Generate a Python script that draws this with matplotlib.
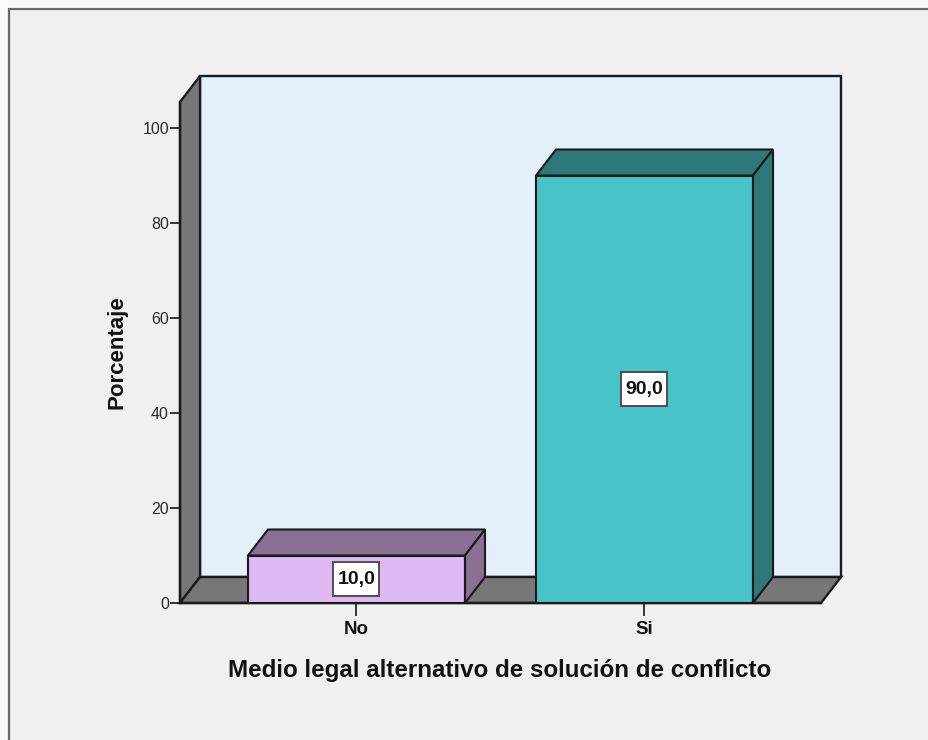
import matplotlib
matplotlib.use("Agg")
import matplotlib.pyplot as plt
from matplotlib.patches import Polygon, Rectangle

plt.rcParams['font.family'] = ['Liberation Sans', 'DejaVu Sans']

categorias = ['No', 'Si']
porcentajes = [10.0, 90.0]
etiquetas = ['10,0', '90,0']
marcas_y = [0, 20, 40, 60, 80, 100]

W, H = 929, 740
fig = plt.figure(figsize=(W/100, H/100), dpi=100, facecolor='#fafafa')

# grey window behind the chart, its frame runs off right and bottom
fig.add_artist(Rectangle((8.5/W, -0.02), 1.0, 1.02 - 8.5/H, transform=fig.transFigure,
                         facecolor='#f0f0f0', edgecolor='#6a6a6a', linewidth=1.6, zorder=-1))

# front plane of the 3d box, px 180..821 and 603..102
ax = fig.add_axes([180/W, 1 - 603/H, 641/W, 501/H])
ax.patch.set_visible(False)
paso = 288.0  # px between categories
px_y = 4.75   # px per unit of y
ax.set_xlim((180 - 356.5)/paso, (821 - 356.5)/paso)
ax.set_ylim(0, 501/px_y)

dx = 20/paso  # depth of the box
dy = 26/px_y
x0, x1 = ax.get_xlim()
y1 = ax.get_ylim()[1]
borde = '#1a1a1a'

# back wall, side wall, floor
ax.add_patch(Polygon([(x0+dx, dy), (x1+dx, dy), (x1+dx, y1+dy), (x0+dx, y1+dy)],
                     facecolor='#e3effb', edgecolor=borde, lw=1.7, clip_on=False, zorder=1))
ax.add_patch(Polygon([(x0, 0), (x0+dx, dy), (x0+dx, y1+dy), (x0, y1)],
                     facecolor='#777777', edgecolor=borde, lw=1.7, clip_on=False, zorder=1))
ax.add_patch(Polygon([(x0, 0), (x1, 0), (x1+dx, dy), (x0+dx, dy)],
                     facecolor='#777777', edgecolor=borde, lw=1.7, clip_on=False, zorder=1))

ancho = 217/paso
frente = ['#dfb9f3', '#48c3c8']
oscuro = ['#8a7094', '#2d7878']
caja_w = 46/paso  # white box behind the value label
caja_h = 34/px_y
for i, v in enumerate(porcentajes):
    a = i - ancho/2
    b = i + ancho/2
    ax.bar(i, v, width=ancho, color=frente[i], edgecolor=borde, linewidth=1.5, zorder=3)
    ax.add_patch(Polygon([(a, v), (b, v), (b+dx, v+dy), (a+dx, v+dy)], facecolor=oscuro[i],
                         edgecolor=borde, lw=1.5, clip_on=False, zorder=3))
    ax.add_patch(Polygon([(b, 0), (b+dx, dy), (b+dx, v+dy), (b, v)], facecolor=oscuro[i],
                         edgecolor=borde, lw=1.5, clip_on=False, zorder=3))
    ax.add_patch(Rectangle((i - caja_w/2, v/2 - caja_h/2), caja_w, caja_h, facecolor='white',
                           edgecolor='#444444', lw=1.3, zorder=4))
    ax.text(i, v/2, etiquetas[i], ha='center', va='center', fontsize=14, fontweight='bold',
            color='#111111', zorder=5)

for lado in ['top', 'right']:
    ax.spines[lado].set_visible(False)
for lado in ['left', 'bottom']:
    ax.spines[lado].set_color(borde)
    ax.spines[lado].set_linewidth(1.7)
    ax.spines[lado].set_zorder(2)

ax.set_yticks(marcas_y)
ax.set_xticks(range(len(categorias)))
ax.set_xticklabels(categorias, fontweight='bold')
ax.tick_params(axis='y', length=7, width=1.4, color='#333333', labelsize=11.5,
               labelcolor='#2a2a2a', pad=1)
ax.tick_params(axis='x', length=9, width=1.4, color='#333333', labelsize=13.5,
               labelcolor='#111111', pad=4)

fig.text(117/W, 1 - 352/H, 'Porcentaje', rotation=90, ha='center', va='center',
         fontsize=16, fontweight='bold', color='#111111')
fig.text(500/W, 1 - 670/H, 'Medio legal alternativo de solución de conflicto',
         ha='center', va='center', fontsize=17.4, fontweight='bold', color='#111111')

fig.savefig('out.png', dpi=100, facecolor=fig.get_facecolor())
